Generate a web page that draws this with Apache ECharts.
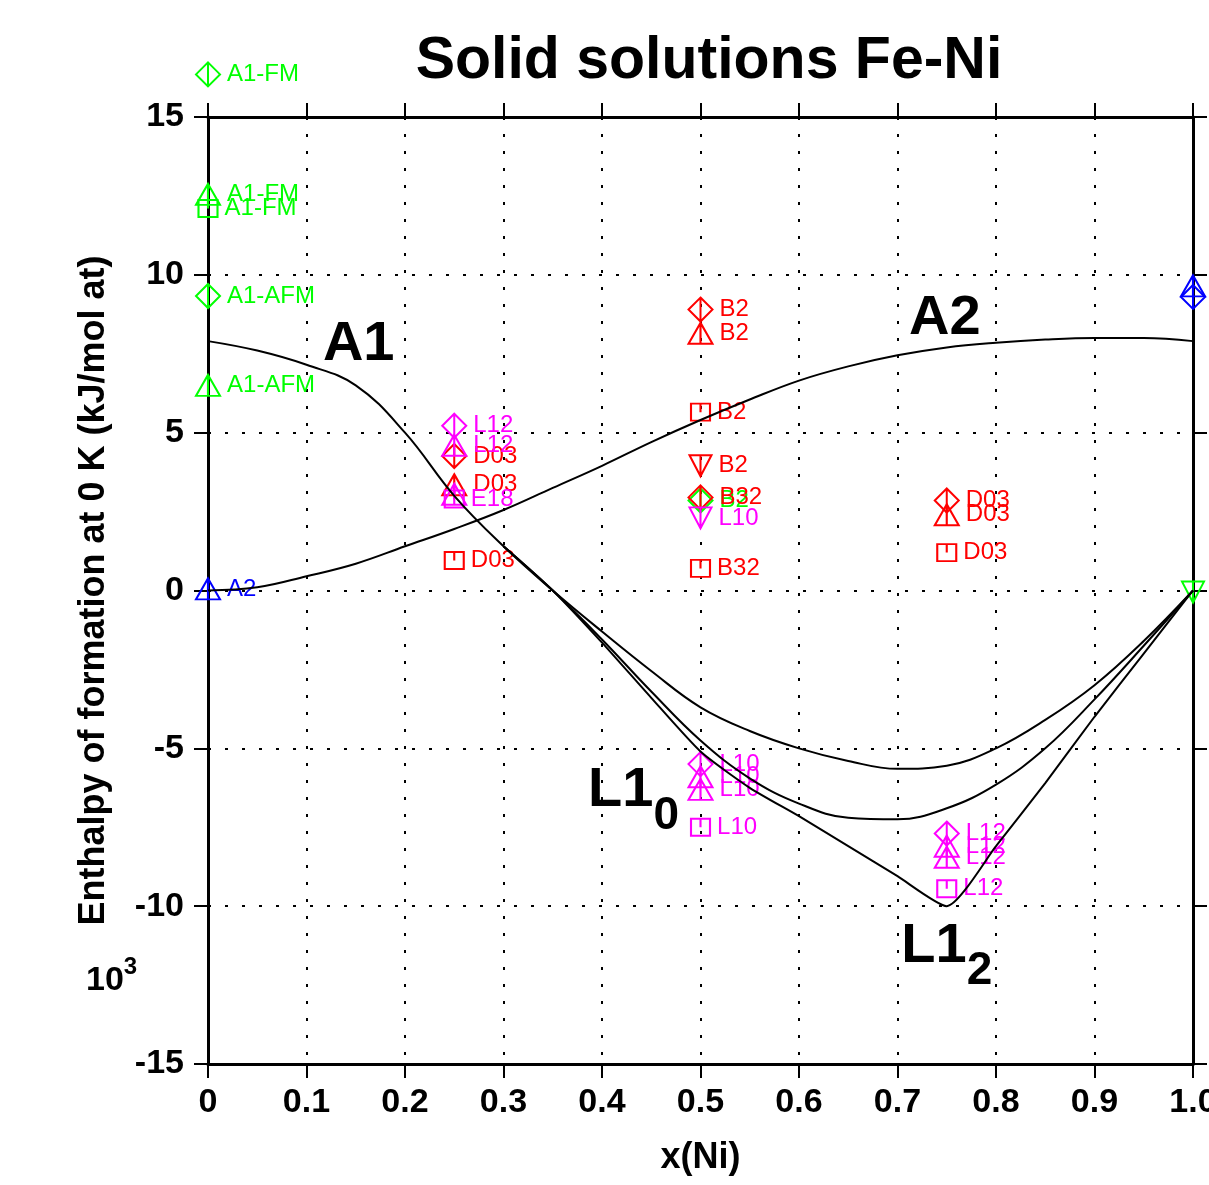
<!DOCTYPE html>
<html>
<head>
<meta charset="utf-8">
<script src="https://cdn.jsdelivr.net/npm/echarts@6/dist/echarts.min.js"></script>
<style>
  html, body { margin: 0; padding: 0; background: #fff; }
  #chart { width: 1209px; height: 1185px; }
</style>
</head>
<body>
<div id="chart"></div>
<script>
// curve abscissae
const xsFull = [0, 0.05, 0.1, 0.15, 0.2, 0.25, 0.3, 0.35, 0.4, 0.45, 0.5,
  0.55, 0.6, 0.65, 0.7, 0.75, 0.8, 0.85, 0.9, 0.95, 1.0];
const xsOrdered = [0.3, 0.35, 0.4, 0.45, 0.5, 0.55, 0.6, 0.65, 0.7, 0.75,
  0.8, 0.85, 0.9, 0.95, 1.0];

// calculated curves (kJ/mol at)
const a2Curve = [0, 0.1, 0.45, 0.85, 1.4, 1.95, 2.55, 3.25, 3.95, 4.7, 5.4,
  6.05, 6.65, 7.1, 7.45, 7.7, 7.85, 7.95, 8.0, 8.0, 7.9];
const a1Curve = [7.9, 7.6, 7.15, 6.5, 5.0, 3.0, 1.4, 0.0, -1.3, -2.55, -3.7,
  -4.45, -5.0, -5.4, -5.65, -5.55, -5.0, -4.1, -3.0, -1.6, 0];
const l10Curve = [1.4, 0.0, -1.55, -3.2, -4.75, -5.95, -6.75, -7.2, -7.25,
  -6.9, -6.15, -5.0, -3.45, -1.75, 0];
const l12Curve = [1.4, 0.0, -1.65, -3.4, -5.1, -6.25, -7.15, -8.1, -9.05,
  -10.0, -8.1, -6.1, -4.0, -2.0, 0];

// computed points: [x(Ni), enthalpy, structure label]
const greenDiamond = [[0, 16.35, 'A1-FM'], [0, 9.33, 'A1-AFM'], [0.5, 2.85, 'B2']];
const greenTriangle = [[0, 12.55, 'A1-FM'], [0, 6.5, 'A1-AFM']];
const greenSquare = [[0, 12.1, 'A1-FM']];
const greenInvTriangle = [[1.0, -0.05, '']];
const blueTriangle = [[0, 0.05, 'A2'], [1.0, 9.65, '']];
const blueDiamond = [[1.0, 9.3, '']];
const redDiamond = [[0.25, 4.26, 'D03'], [0.5, 8.9, 'B2'], [0.5, 2.95, 'B32'], [0.75, 2.85, 'D03']];
const redTriangle = [[0.25, 3.35, 'D03'], [0.5, 8.15, 'B2'], [0.75, 2.4, 'D03']];
const redSquare = [[0.25, 0.95, 'D03'], [0.5, 5.65, 'B2'], [0.5, 0.7, 'B32'], [0.75, 1.2, 'D03']];
const redInvTriangle = [[0.5, 3.95, 'B2']];
const magentaDiamond = [[0.25, 5.22, 'L12'], [0.5, -5.5, 'L10'], [0.75, -7.7, 'L12']];
const magentaTriangle = [[0.25, 4.6, 'L12'], [0.25, 3.05, ''], [0.5, -5.9, 'L10'], [0.5, -6.3, 'L10'],
  [0.75, -8.1, 'L12'], [0.75, -8.45, 'L12']];
const magentaSquare = [[0.25, 2.9, 'E18'], [0.5, -7.5, 'L10'], [0.75, -9.45, 'L12']];
const magentaInvTriangle = [[0.5, 2.3, 'L10']];

// phase names drawn on the plot
const phaseNames = [[0.153, 7.78, '{m|A1}'], [0.748, 8.63, '{m|A2}'],
  [0.432, -6.67, '{m|L1}{s|0}'], [0.75, -11.6, '{m|L1}{s|2}']];

const FONT = '"Liberation Sans", Arial, sans-serif';
const GREEN = '#00ff00', RED = '#ff0000', MAGENTA = '#ff00ff', BLUE = '#0000ff';

const SYM = {
  diamond: { path: 'path://M0,-10L10,0L0,10L-10,0ZM0,-10L0,10', size: [24, 24] },
  triangle: { path: 'path://M0,-10L10,8L-10,8ZM0,-10L0,8', size: [24, 21] },
  square: { path: 'path://M-9,-9L9,-9L9,9L-9,9ZM0,-9L0,0', size: [19, 17] },
  invTriangle: { path: 'path://M-10,-8L10,-8L0,10ZM0,-8L0,10', size: [22, 21] }
};

function markerSeries(data, color, sym) {
  return {
    type: 'scatter',
    clip: false,
    symbol: sym.path,
    symbolSize: sym.size,
    itemStyle: { color: 'rgba(0,0,0,0)', borderColor: color, borderWidth: 2, opacity: 1 },
    label: {
      show: true,
      position: 'right',
      distance: 6,
      formatter: (p) => p.data[2],
      color: color,
      fontFamily: FONT,
      fontSize: 24
    },
    data: data
  };
}

function curveSeries(xs, ys, smooth) {
  return {
    type: 'line',
    showSymbol: false,
    symbol: 'none',
    smooth: smooth,
    lineStyle: { color: '#000', width: 2 },
    data: xs.map((x, i) => [x, ys[i]])
  };
}

const chart = echarts.init(document.getElementById('chart'));

const dotted = { color: '#000', width: 2, type: [3, 14] };
const outTicks = { show: true, inside: false, length: 14, lineStyle: { color: '#000', width: 2 } };
const frameLine = { show: true, onZero: false, lineStyle: { color: '#000', width: 3 } };

const option = {
  animation: false,
  backgroundColor: '#fff',
  title: {
    text: 'Solid solutions Fe-Ni',
    left: 704,
    textAlign: 'center',
    top: 27,
    textStyle: { fontFamily: FONT, fontSize: 59, fontWeight: 'bold', color: '#000' }
  },
  grid: { left: 208, right: 16, top: 117, bottom: 121, outerBoundsMode: 'none', containLabel: false },
  graphic: [{
    type: 'text',
    left: 86,
    top: 955,
    style: {
      text: '{a|10}{b|3}',
      rich: {
        a: { fontFamily: FONT, fontSize: 34, fontWeight: 'bold', fill: '#000', verticalAlign: 'top', padding: [9, 0, 0, 0] },
        b: { fontFamily: FONT, fontSize: 24, fontWeight: 'bold', fill: '#000', verticalAlign: 'top' }
      }
    }
  }],
  xAxis: [{
    type: 'value',
    min: 0, max: 1, interval: 0.1,
    name: 'x(Ni)',
    nameLocation: 'middle',
    nameGap: 76,
    nameTextStyle: { fontFamily: FONT, fontSize: 36, fontWeight: 'bold', color: '#000' },
    axisLine: frameLine,
    axisTick: outTicks,
    axisLabel: {
      margin: 22,
      color: '#000', fontFamily: FONT, fontSize: 34, fontWeight: 'bold',
      formatter: (v) => (v === 0 ? '0' : v.toFixed(1))
    },
    splitLine: { show: true, lineStyle: dotted }
  }, {
    type: 'value',
    position: 'top',
    min: 0, max: 1, interval: 0.1,
    axisLine: frameLine,
    axisTick: outTicks,
    axisLabel: { show: false },
    splitLine: { show: false }
  }],
  yAxis: [{
    type: 'value',
    min: -15, max: 15, interval: 5,
    name: 'Enthalpy of formation at 0 K (kJ/mol at)',
    nameLocation: 'middle',
    nameGap: 96,
    nameTextStyle: { fontFamily: FONT, fontSize: 36, fontWeight: 'bold', color: '#000' },
    axisLine: frameLine,
    axisTick: outTicks,
    axisLabel: { margin: 24, color: '#000', fontFamily: FONT, fontSize: 34, fontWeight: 'bold' },
    splitLine: { show: true, lineStyle: dotted }
  }, {
    type: 'value',
    position: 'right',
    min: -15, max: 15, interval: 5,
    axisLine: frameLine,
    axisTick: outTicks,
    axisLabel: { show: false },
    splitLine: { show: false }
  }],
  series: [
    curveSeries(xsFull, a2Curve, 0.4),
    curveSeries(xsFull, a1Curve, 0.4),
    curveSeries(xsOrdered, l10Curve, 0.4),
    curveSeries(xsOrdered, l12Curve, 0.2),
    markerSeries(greenDiamond, GREEN, SYM.diamond),
    markerSeries(greenTriangle, GREEN, SYM.triangle),
    markerSeries(greenSquare, GREEN, SYM.square),
    markerSeries(greenInvTriangle, GREEN, SYM.invTriangle),
    markerSeries(blueTriangle, BLUE, SYM.triangle),
    markerSeries(blueDiamond, BLUE, SYM.diamond),
    markerSeries(redDiamond, RED, SYM.diamond),
    markerSeries(redTriangle, RED, SYM.triangle),
    markerSeries(redSquare, RED, SYM.square),
    markerSeries(redInvTriangle, RED, SYM.invTriangle),
    markerSeries(magentaDiamond, MAGENTA, SYM.diamond),
    markerSeries(magentaTriangle, MAGENTA, SYM.triangle),
    markerSeries(magentaSquare, MAGENTA, SYM.square),
    markerSeries(magentaInvTriangle, MAGENTA, SYM.invTriangle),
    {
      type: 'scatter',
      clip: false,
      symbolSize: 0,
      silent: true,
      itemStyle: { opacity: 1 },
      label: {
        show: true,
        position: 'inside',
        color: '#000',
        formatter: (p) => p.data[2],
        rich: {
          m: { fontFamily: FONT, fontSize: 56, fontWeight: 'bold', color: '#000', verticalAlign: 'top' },
          s: { fontFamily: FONT, fontSize: 46, fontWeight: 'bold', color: '#000', verticalAlign: 'top', padding: [30, 0, 0, 0] }
        }
      },
      data: phaseNames
    }
  ]
};

chart.setOption(option);
</script>
</body>
</html>
